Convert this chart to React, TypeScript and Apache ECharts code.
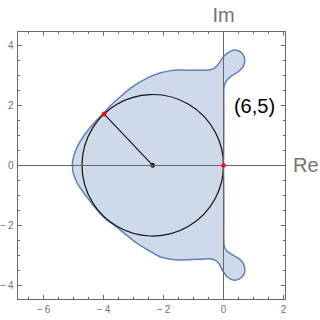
import React, { useEffect, useRef } from "react";
import * as echarts from "echarts";

// ---- data ----
const X_MIN = -6.87;
const X_MAX = 2.06;
const Y_MIN = -4.47;
const Y_MAX = 4.47;

const majorTicksX = [-6, -4, -2, 0, 2];
const minorTicksX = [-6.5, -5.5, -5, -4.5, -3.5, -3, -2.5, -1.5, -1, -0.5, 0.5, 1, 1.5];
const majorTicksY = [-4, -2, 0, 2, 4];
const minorTicksY = [-3.5, -3, -2.5, -1.5, -1, -0.5, 0.5, 1, 1.5, 2.5, 3, 3.5];

// stability-region boundary (closed curve), real and imaginary parts
const boundaryRe = [
  -5.04, -5.02, -4.95, -4.79, -4.56, -4.28, -3.99, -3.73, -3.45, -3.12, -2.78, -2.45, -2.12, -1.8, -1.5,
  -1.1, -0.75, -0.45, -0.28, -0.14, -0.02, 0.14, 0.32, 0.49, 0.64, 0.71, 0.66, 0.5, 0.28, 0.11, 0.03, 0.01,
  0.01, 0.01, 0.0,
  0.01, 0.01, 0.01, 0.03, 0.11, 0.27, 0.49, 0.64, 0.71, 0.68, 0.53, 0.33, 0.16, -0.01, -0.14, -0.28, -0.45,
  -0.75, -1.05, -1.5, -2.12, -2.56, -2.89, -3.23, -3.58, -3.95, -4.26, -4.56, -4.84, -5.01,
];
const boundaryIm = [
  0.0, 0.2, 0.45, 0.78, 1.12, 1.45, 1.75, 2.03, 2.28, 2.56, 2.78, 2.96, 3.08, 3.15, 3.18,
  3.17, 3.17, 3.19, 3.26, 3.42, 3.6, 3.75, 3.84, 3.82, 3.71, 3.52, 3.3, 3.13, 2.99, 2.84, 2.67, 2.5,
  2.0, 1.0, 0.0,
  -1.0, -2.0, -2.49, -2.72, -2.86, -2.97, -3.1, -3.24, -3.44, -3.64, -3.79, -3.83, -3.75, -3.55, -3.3, -3.16, -3.12,
  -3.13, -3.14, -3.16, -3.05, -2.8, -2.6, -2.33, -2.05, -1.77, -1.44, -1.05, -0.66, -0.27,
];

const circleCenter = [-2.36, 0];
const circleRadius = 2.36;
const radiusPoint = [-3.98, 1.71];
const originPoint = [0, 0];

const annotation = "(6,5)";
const reLabel = "Re";
const imLabel = "Im";

const FRAME = "#6a6a6a";
const LABEL = "#737373";
const REGION_LINE = "#5E81B5";
const REGION_FILL = "rgba(94,129,181,0.3)";
const FONT = "Liberation Sans";

const fmt = (v: number) => (v < 0 ? "\u2212\u2009" + Math.abs(v) : String(v));

function makeAxis(
  kind: "x" | "y",
  position: string,
  ticks: number[],
  length: number,
  showLine: boolean,
  showLabels: boolean
) {
  return {
    type: "value",
    position,
    min: kind === "x" ? X_MIN : Y_MIN,
    max: kind === "x" ? X_MAX : Y_MAX,
    axisLine: { show: showLine, onZero: false, lineStyle: { color: FRAME, width: 1 } },
    axisTick: { show: true, inside: true, length, customValues: ticks, lineStyle: { color: FRAME, width: 1 } },
    axisLabel: {
      show: showLabels,
      customValues: ticks,
      formatter: fmt,
      color: LABEL,
      fontSize: 10,
      fontFamily: FONT,
      margin: kind === "x" ? 5 : 4,
    },
    splitLine: { show: false },
    minorTick: { show: false },
  };
}

export default function App() {
  const ref = useRef<HTMLDivElement>(null);
  useEffect(() => {
    if (!ref.current) return;
    const chart = echarts.init(ref.current, undefined, { renderer: "svg", width: 320, height: 320 });
    const option: any = {
      animation: false,
      grid: { left: 17.5, top: 31.3, width: 267.8, height: 268, outerBoundsMode: "none" },
      xAxis: [
        makeAxis("x", "bottom", majorTicksX, 4.5, true, true),
        makeAxis("x", "bottom", minorTicksX, 2.5, false, false),
        makeAxis("x", "top", majorTicksX, 4.5, true, false),
        makeAxis("x", "top", minorTicksX, 2.5, false, false),
      ],
      yAxis: [
        makeAxis("y", "left", majorTicksY, 4.5, true, true),
        makeAxis("y", "left", minorTicksY, 2.5, false, false),
        makeAxis("y", "right", majorTicksY, 4.5, true, false),
        makeAxis("y", "right", minorTicksY, 2.5, false, false),
      ],
      series: [
        {
          type: "custom",
          xAxisIndex: 0,
          yAxisIndex: 0,
          data: [[boundaryRe[0], boundaryIm[0]]],
          renderItem: (params: any, api: any) => {
            const pts = boundaryRe.map((x, i) => api.coord([x, boundaryIm[i]]));
            return {
              type: "polygon",
              shape: { points: pts, smooth: 0.25 },
              style: { fill: REGION_FILL, stroke: REGION_LINE, lineWidth: 1.5 },
            };
          },
          z: 1,
        },
        {
          type: "line",
          xAxisIndex: 0,
          yAxisIndex: 0,
          data: [],
          markLine: {
            silent: true,
            symbol: "none",
            label: { show: false },
            lineStyle: { color: "#666666", width: 1, type: "solid" },
            data: [{ yAxis: 0 }, { xAxis: 0 }],
          },
          z: 2,
        },
        {
          type: "custom",
          xAxisIndex: 0,
          yAxisIndex: 0,
          data: [[circleCenter[0], circleCenter[1], circleRadius]],
          renderItem: (params: any, api: any) => {
            const c = api.coord([api.value(0), api.value(1)]);
            const r = api.size([api.value(2), 0])[0];
            return {
              type: "circle",
              shape: { cx: c[0], cy: c[1], r },
              style: { fill: "none", stroke: "#111111", lineWidth: 1.2 },
            };
          },
          z: 3,
        },
        {
          type: "line",
          xAxisIndex: 0,
          yAxisIndex: 0,
          data: [circleCenter, radiusPoint],
          showSymbol: false,
          symbol: "none",
          lineStyle: { color: "#111111", width: 1.1 },
          z: 3,
        },
        {
          type: "scatter",
          xAxisIndex: 0,
          yAxisIndex: 0,
          data: [circleCenter],
          symbol: "circle",
          symbolSize: 5,
          itemStyle: { color: "#000000" },
          z: 4,
        },
        {
          type: "scatter",
          xAxisIndex: 0,
          yAxisIndex: 0,
          data: [radiusPoint, originPoint],
          symbol: "circle",
          symbolSize: 5,
          itemStyle: { color: "#ff0000" },
          z: 5,
        },
      ],
      graphic: [
        {
          type: "text",
          x: 223.5,
          y: 15,
          style: {
            text: imLabel,
            fontSize: 20,
            fontFamily: FONT,
            fill: LABEL,
            align: "center",
            verticalAlign: "middle",
            textAlign: "center",
            textVerticalAlign: "middle",
          },
        },
        {
          type: "text",
          x: 293,
          y: 165,
          style: {
            text: reLabel,
            fontSize: 20,
            fontFamily: FONT,
            fill: LABEL,
            align: "left",
            verticalAlign: "middle",
            textAlign: "left",
            textVerticalAlign: "middle",
          },
        },
        {
          type: "text",
          x: 254.5,
          y: 105.5,
          style: {
            text: annotation,
            fontSize: 20,
            fontFamily: FONT,
            fill: "#000000",
            align: "center",
            verticalAlign: "middle",
            textAlign: "center",
            textVerticalAlign: "middle",
          },
        },
      ],
    };
    chart.setOption(option);
    return () => chart.dispose();
  }, []);
  return (
    <div
      ref={ref}
      style={{ position: "fixed", left: 0, top: 0, width: 320, height: 320, background: "#ffffff" }}
    />
  );
}
